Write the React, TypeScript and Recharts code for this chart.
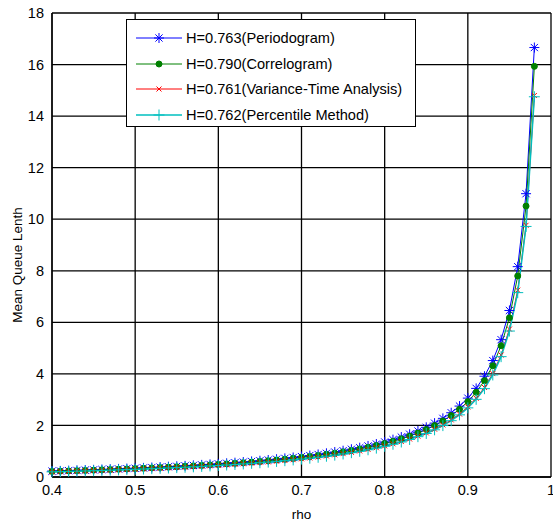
import React from 'react';
import { LineChart, Line, XAxis, YAxis, CartesianGrid } from 'recharts';

// rho values 0.40 .. 0.98 step 0.01
const rho = [
  0.4, 0.41, 0.42, 0.43, 0.44, 0.45, 0.46, 0.47, 0.48, 0.49,
  0.5, 0.51, 0.52, 0.53, 0.54, 0.55, 0.56, 0.57, 0.58, 0.59,
  0.6, 0.61, 0.62, 0.63, 0.64, 0.65, 0.66, 0.67, 0.68, 0.69,
  0.7, 0.71, 0.72, 0.73, 0.74, 0.75, 0.76, 0.77, 0.78, 0.79,
  0.8, 0.81, 0.82, 0.83, 0.84, 0.85, 0.86, 0.87, 0.88, 0.89,
  0.9, 0.91, 0.92, 0.93, 0.94, 0.95, 0.96, 0.97, 0.98,
];

const periodogram = [
  0.227, 0.236, 0.246, 0.256, 0.267, 0.278, 0.29, 0.302, 0.314, 0.327,
  0.34, 0.354, 0.368, 0.383, 0.399, 0.416, 0.433, 0.451, 0.47, 0.489,
  0.51, 0.532, 0.555, 0.579, 0.604, 0.631, 0.66, 0.69, 0.723, 0.757,
  0.793, 0.832, 0.874, 0.919, 0.968, 1.02, 1.077, 1.138, 1.205, 1.279,
  1.36, 1.449, 1.549, 1.66, 1.785, 1.927, 2.089, 2.275, 2.493, 2.751,
  3.06, 3.438, 3.91, 4.517, 5.327, 6.46, 8.16, 10.99, 16.66,
];

const correlogram = [
  0.217, 0.226, 0.235, 0.245, 0.255, 0.266, 0.277, 0.288, 0.3, 0.312,
  0.325, 0.338, 0.352, 0.367, 0.382, 0.397, 0.414, 0.431, 0.449, 0.468,
  0.488, 0.508, 0.53, 0.553, 0.578, 0.604, 0.631, 0.66, 0.691, 0.723,
  0.758, 0.796, 0.836, 0.879, 0.925, 0.975, 1.029, 1.088, 1.152, 1.223,
  1.3, 1.386, 1.481, 1.587, 1.706, 1.842, 1.996, 2.175, 2.383, 2.63,
  2.925, 3.286, 3.738, 4.318, 5.092, 6.175, 7.8, 10.51, 15.93,
];

const varianceTime = [
  0.201, 0.21, 0.219, 0.228, 0.237, 0.247, 0.257, 0.268, 0.279, 0.29,
  0.302, 0.314, 0.327, 0.341, 0.355, 0.369, 0.384, 0.4, 0.417, 0.435,
  0.453, 0.472, 0.493, 0.514, 0.537, 0.561, 0.586, 0.613, 0.642, 0.672,
  0.705, 0.739, 0.777, 0.817, 0.86, 0.906, 0.956, 1.011, 1.071, 1.136,
  1.208, 1.287, 1.376, 1.474, 1.586, 1.711, 1.855, 2.021, 2.215, 2.443,
  2.718, 3.054, 3.473, 4.012, 4.731, 5.738, 7.248, 9.765, 14.8,
];

const percentile = [
  0.199, 0.207, 0.216, 0.225, 0.234, 0.244, 0.254, 0.264, 0.275, 0.286,
  0.298, 0.31, 0.323, 0.336, 0.35, 0.364, 0.379, 0.395, 0.412, 0.429,
  0.447, 0.466, 0.486, 0.507, 0.53, 0.553, 0.578, 0.605, 0.633, 0.663,
  0.695, 0.73, 0.766, 0.806, 0.848, 0.894, 0.944, 0.998, 1.057, 1.121,
  1.192, 1.27, 1.358, 1.455, 1.565, 1.689, 1.831, 1.994, 2.185, 2.411,
  2.682, 3.013, 3.427, 3.959, 4.669, 5.662, 7.152, 9.72, 14.75,
];

const xTicks = [0.4, 0.5, 0.6, 0.7, 0.8, 0.9, 1];
const yTicks = [0, 2, 4, 6, 8, 10, 12, 14, 16, 18];

const data = rho.map((r, i) => ({
  rho: r,
  periodogram: periodogram[i],
  correlogram: correlogram[i],
  varianceTime: varianceTime[i],
  percentile: percentile[i],
}));

const FONT = '"Liberation Sans", Arial, sans-serif';

// marker shapes (matlab style)
const StarDot = (p: any) => {
  const { cx, cy } = p;
  if (cx == null || cy == null) return null;
  const r = 5, d = 3.6;
  return (
    <g key={p.index} stroke="#0000ff" strokeWidth={1}>
      <line x1={cx - r} y1={cy} x2={cx + r} y2={cy} />
      <line x1={cx} y1={cy - r} x2={cx} y2={cy + r} />
      <line x1={cx - d} y1={cy - d} x2={cx + d} y2={cy + d} />
      <line x1={cx - d} y1={cy + d} x2={cx + d} y2={cy - d} />
    </g>
  );
};

const CircleDot = (p: any) => {
  const { cx, cy } = p;
  if (cx == null || cy == null) return null;
  return <circle key={p.index} cx={cx} cy={cy} r={3} fill="#008000" stroke="#008000" />;
};

const XDot = (p: any) => {
  const { cx, cy } = p;
  if (cx == null || cy == null) return null;
  const d = 2.5;
  return (
    <g key={p.index} stroke="#ff0000" strokeWidth={1}>
      <line x1={cx - d} y1={cy - d} x2={cx + d} y2={cy + d} />
      <line x1={cx - d} y1={cy + d} x2={cx + d} y2={cy - d} />
    </g>
  );
};

const PlusDot = (p: any) => {
  const { cx, cy } = p;
  if (cx == null || cy == null) return null;
  const r = 5.5;
  return (
    <g key={p.index} stroke="#00bfbf" strokeWidth={1}>
      <line x1={cx - r} y1={cy} x2={cx + r} y2={cy} />
      <line x1={cx} y1={cy - r} x2={cx} y2={cy + r} />
    </g>
  );
};

const legendItems = [
  { label: 'H=0.763(Periodogram)', color: '#0000ff', Dot: StarDot },
  { label: 'H=0.790(Correlogram)', color: '#008000', Dot: CircleDot },
  { label: 'H=0.761(Variance-Time Analysis)', color: '#ff0000', Dot: XDot },
  { label: 'H=0.762(Percentile Method)', color: '#00bfbf', Dot: PlusDot },
];

const LegendBox = () => (
  <div
    style={{
      position: 'absolute',
      left: 126,
      top: 19,
      width: 290,
      height: 108,
      background: '#fff',
      border: '1px solid #000',
      boxSizing: 'border-box',
      fontFamily: FONT,
      fontSize: 14.6,
    }}
  >
    {legendItems.map((it, i) => (
      <div key={it.label} style={{ position: 'absolute', left: 8, top: 8 + i * 25.5, height: 20, display: 'flex', alignItems: 'center' }}>
        <svg width={48} height={20}>
          <line x1={1} y1={10} x2={47} y2={10} stroke={it.color} strokeWidth={it.color === '#00bfbf' ? 1.5 : 1} />
          <it.Dot cx={24} cy={10} index={0} />
        </svg>
        <span style={{ marginLeft: 3, color: '#000', whiteSpace: 'nowrap' }}>{it.label}</span>
      </div>
    ))}
  </div>
);

const YLabel = () => (
  <text x={17} y={265} transform="rotate(-90 17 265)" textAnchor="middle" dominantBaseline="central" fontFamily={FONT} fontSize={13.5} fill="#000">
    Mean Queue Lenth
  </text>
);

export default function App() {
  return (
    <div style={{ position: 'absolute', left: 0, top: 0, width: 553, height: 524, background: '#fff' }}>
      <LineChart width={553} height={524} data={data} margin={{ top: 13, right: 2, left: 0, bottom: 17 }}>
        <CartesianGrid stroke="#000" strokeWidth={1.3} />
        <XAxis
          dataKey="rho"
          type="number"
          domain={[0.4, 1]}
          ticks={xTicks}
          height={30}
          tickLine={false}
          axisLine={{ stroke: '#000', strokeWidth: 1.3 }}
          tick={{ fill: '#000', fontSize: 14.5, fontFamily: FONT }}
          tickFormatter={(v: number) => String(v)}
          label={{ value: 'rho', position: 'insideBottom', offset: -12, fill: '#000', fontSize: 13.5, fontFamily: FONT }}
          interval={0}
        />
        <YAxis
          domain={[0, 18]}
          ticks={yTicks}
          width={52}
          tickLine={false}
          axisLine={{ stroke: '#000', strokeWidth: 1.3 }}
          tick={{ fill: '#000', fontSize: 14.5, fontFamily: FONT }}
          label={<YLabel />}
          interval={0}
        />
        <Line dataKey="periodogram" stroke="#0000ff" strokeWidth={1} dot={StarDot} isAnimationActive={false} />
        <Line dataKey="correlogram" stroke="#008000" strokeWidth={1} dot={CircleDot} isAnimationActive={false} />
        <Line dataKey="varianceTime" stroke="#ff0000" strokeWidth={1} dot={XDot} isAnimationActive={false} />
        <Line dataKey="percentile" stroke="#00bfbf" strokeWidth={1.5} dot={PlusDot} isAnimationActive={false} />
      </LineChart>
      <LegendBox />
    </div>
  );
}
